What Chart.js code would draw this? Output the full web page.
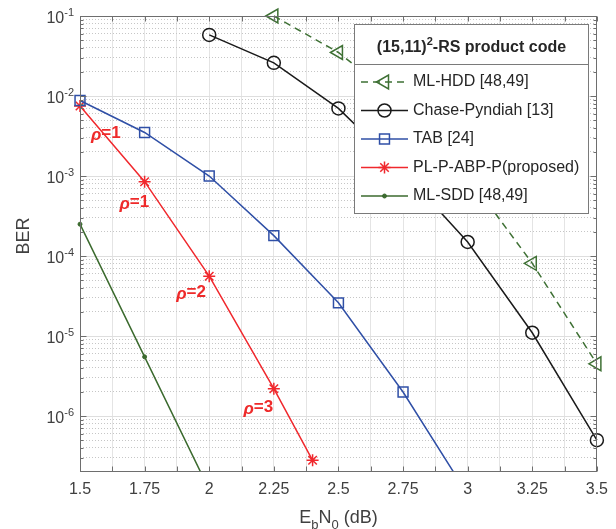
<!DOCTYPE html>
<html>
<head>
<meta charset="utf-8">
<script src="https://cdn.jsdelivr.net/npm/chart.js@4.4.1/dist/chart.umd.min.js"></script>
<style>
  body { margin: 0; background: #fff; }
  #wrap { width: 616px; height: 529px; }
</style>
</head>
<body>
<div id="wrap"><canvas id="chartBER" width="616" height="529"></canvas></div>
<script>
// data (perkiraan)
const ebn0HDD = [2.25, 2.5, 2.75, 3.0, 3.25, 3.5];
const berHDD = [1.0e-1, 3.5e-2, 8.0e-3, 1.0e-3, 8.1e-5, 4.5e-6];

const ebn0Chase = [2.0, 2.25, 2.5, 2.75, 3.0, 3.25, 3.5];
const berChase = [5.8e-2, 2.6e-2, 7.0e-3, 1.15e-3, 1.5e-4, 1.1e-5, 5.0e-7];

const ebn0TAB = [1.5, 1.75, 2.0, 2.25, 2.5, 2.75, 3.0];
const berTAB = [8.8e-3, 3.5e-3, 1.0e-3, 1.8e-4, 2.6e-5, 2.0e-6, 1.05e-7];

const ebn0PL = [1.5, 1.75, 2.0, 2.25, 2.4];
const berPL = [7.5e-3, 8.5e-4, 5.6e-5, 2.2e-6, 2.8e-7];

const ebn0SDD = [1.5, 1.75, 2.0];
const berSDD = [2.5e-4, 5.5e-6, 1.2e-7];

const seriesNames = ['ML-HDD [48,49]', 'Chase-Pyndiah [13]', 'TAB [24]', 'PL-P-ABP-P(proposed)', 'ML-SDD [48,49]'];

// label rho di dekat kurva merah
const rhoText = ['1', '1', '2', '3'];
const rhoX = [1.6, 1.71, 1.93, 2.19];
const rhoY = [3.4e-3, 4.7e-4, 3.5e-5, 1.3e-6];

const xTickStep = 0.125;
const yDecades = [-6, -5, -4, -3, -2, -1];

const FONT = "'Liberation Sans', Arial, sans-serif";
Chart.defaults.font.family = FONT;

const isDecade = v => Math.abs(Math.log10(v) - Math.round(Math.log10(v))) < 1e-9;

function toPoints(xs, ys) {
  return xs.map((x, i) => ({ x: x, y: ys[i] }));
}

const clipBottom = { left: 12, top: 12, right: 12, bottom: 0 };

const datasets = [
  {
    label: seriesNames[0], data: toPoints(ebn0HDD, berHDD),
    borderColor: '#3e7034', borderWidth: 1.5, borderDash: [7, 5],
    pointStyle: 'triangle', pointRotation: -90, pointRadius: 8,
    pointBorderColor: '#3e7034', pointBackgroundColor: 'rgba(0,0,0,0)', pointBorderWidth: 1.5,
    clip: false
  },
  {
    label: seriesNames[1], data: toPoints(ebn0Chase, berChase),
    borderColor: '#1a1a1a', borderWidth: 1.5,
    pointStyle: 'circle', pointRadius: 6.5,
    pointBorderColor: '#1a1a1a', pointBackgroundColor: 'rgba(0,0,0,0)', pointBorderWidth: 1.5,
    clip: false
  },
  {
    label: seriesNames[2], data: toPoints(ebn0TAB, berTAB),
    borderColor: '#2f4fa6', borderWidth: 1.5,
    pointStyle: 'rect', pointRadius: 7,
    pointBorderColor: '#2f4fa6', pointBackgroundColor: 'rgba(0,0,0,0)', pointBorderWidth: 1.5,
    clip: clipBottom
  },
  {
    label: seriesNames[3], data: toPoints(ebn0PL, berPL),
    borderColor: '#f0282d', borderWidth: 1.5,
    pointStyle: 'star', pointRadius: 6,
    pointBorderColor: '#f0282d', pointBackgroundColor: 'rgba(0,0,0,0)', pointBorderWidth: 1.5,
    clip: false
  },
  {
    label: seriesNames[4], data: toPoints(ebn0SDD, berSDD),
    borderColor: '#3b6a2e', borderWidth: 1.5,
    pointStyle: 'circle', pointRadius: 2,
    pointBorderColor: '#3b6a2e', pointBackgroundColor: '#3b6a2e', pointBorderWidth: 1,
    clip: clipBottom
  }
];

// gambar bagian ala MATLAB: kotak, tick ke dalam, label, legend
const matlabLook = {
  id: 'matlabLook',
  afterDatasetsDraw(chart) {
    const ctx = chart.ctx;
    const a = chart.chartArea;
    const xs = chart.scales.x, ys = chart.scales.y;
    ctx.save();

    // anotasi rho
    ctx.fillStyle = '#ee2a2a';
    ctx.textBaseline = 'middle';
    rhoText.forEach((t, i) => {
      const px = xs.getPixelForValue(rhoX[i]);
      const py = ys.getPixelForValue(rhoY[i]);
      ctx.font = 'italic bold 17px ' + FONT;
      const w1 = ctx.measureText('\u03C1').width;
      ctx.font = 'bold 17px ' + FONT;
      const w2 = ctx.measureText('=' + t).width;
      const x0 = px - (w1 + w2) / 2;
      ctx.font = 'italic bold 17px ' + FONT;
      ctx.textAlign = 'left';
      ctx.fillText('\u03C1', x0, py + 2);
      ctx.font = 'bold 17px ' + FONT;
      ctx.fillText('=' + t, x0 + w1, py);
    });

    // kotak sumbu
    ctx.strokeStyle = '#6e6e6e';
    ctx.lineWidth = 1;
    const L = Math.round(a.left) + 0.5, R = Math.round(a.right) - 0.5;
    const T = Math.round(a.top) + 0.5, B = Math.round(a.bottom) - 0.5;
    ctx.strokeRect(L, T, R - L, B - T);

    ctx.beginPath();
    for (let v = 1.5; v <= 3.5 + 1e-9; v += xTickStep) {
      const px = Math.round(xs.getPixelForValue(v)) + 0.5;
      ctx.moveTo(px, B); ctx.lineTo(px, B - 5);
      ctx.moveTo(px, T); ctx.lineTo(px, T + 5);
    }
    ys.ticks.forEach(tk => {
      const py = Math.round(ys.getPixelForValue(tk.value)) + 0.5;
      const len = isDecade(tk.value) ? 6 : 3;
      ctx.moveTo(L, py); ctx.lineTo(L + len, py);
      ctx.moveTo(R, py); ctx.lineTo(R - len, py);
    });
    ctx.stroke();
    ctx.restore();
  },
  afterDraw(chart) {
    const ctx = chart.ctx;
    const a = chart.chartArea;
    const ys = chart.scales.y;
    ctx.save();
    ctx.fillStyle = '#404040';
    ctx.textBaseline = 'middle';

    // label sumbu y: 10^-n
    yDecades.forEach(e => {
      const py = ys.getPixelForValue(Math.pow(10, e));
      ctx.font = '16px ' + FONT;
      const wBase = ctx.measureText('10').width;
      ctx.font = '11px ' + FONT;
      const sup = '-' + (-e);
      const wSup = ctx.measureText(sup).width;
      const right = a.left - 6;
      ctx.textAlign = 'left';
      ctx.font = '16px ' + FONT;
      ctx.fillText('10', right - wSup - wBase, py + 3);
      ctx.font = '11px ' + FONT;
      ctx.fillText(sup, right - wSup, py - 3);
    });

    // judul sumbu y
    ctx.save();
    ctx.translate(24, (a.top + a.bottom) / 2 - 8);
    ctx.rotate(-Math.PI / 2);
    ctx.textAlign = 'center';
    ctx.font = '18px ' + FONT;
    ctx.fillText('BER', 0, 0);
    ctx.restore();

    // judul sumbu x: E_bN_0 (dB)
    const parts = [
      { t: 'E', f: '18px ', dy: 0 },
      { t: 'b', f: '13px ', dy: 6 },
      { t: 'N', f: '18px ', dy: 0 },
      { t: '0', f: '13px ', dy: 6 },
      { t: ' (dB)', f: '18px ', dy: 0 }
    ];
    let total = 0;
    parts.forEach(p => { ctx.font = p.f + FONT; p.w = ctx.measureText(p.t).width; total += p.w; });
    let cx = (a.left + a.right) / 2 - total / 2;
    ctx.textAlign = 'left';
    ctx.textBaseline = 'alphabetic';
    parts.forEach(p => {
      ctx.font = p.f + FONT;
      ctx.fillText(p.t, cx, 523 + p.dy);
      cx += p.w;
    });

    // legend
    const lx = 354.5, ly = 24.5, lw = 234, lh = 189;
    ctx.fillStyle = '#ffffff';
    ctx.fillRect(lx, ly, lw, lh);
    ctx.strokeStyle = '#7a7a7a';
    ctx.lineWidth = 1;
    ctx.strokeRect(lx, ly, lw, lh);
    ctx.beginPath();
    ctx.moveTo(lx, 64.5); ctx.lineTo(lx + lw, 64.5);
    ctx.stroke();

    ctx.fillStyle = '#262626';
    ctx.textBaseline = 'middle';
    const t1 = '(15,11)', t2 = '2', t3 = '-RS product code';
    ctx.font = 'bold 16px ' + FONT;
    const w1 = ctx.measureText(t1).width, w3 = ctx.measureText(t3).width;
    ctx.font = 'bold 11px ' + FONT;
    const w2 = ctx.measureText(t2).width;
    let tx = lx + lw / 2 - (w1 + w2 + w3) / 2;
    ctx.font = 'bold 16px ' + FONT;
    ctx.fillText(t1, tx, 48);
    ctx.font = 'bold 11px ' + FONT;
    ctx.fillText(t2, tx + w1, 42);
    ctx.font = 'bold 16px ' + FONT;
    ctx.fillText(t3, tx + w1 + w2, 48);

    chart.data.datasets.forEach((ds, i) => {
      const yy = 82 + i * 28.5;
      ctx.save();
      ctx.strokeStyle = ds.borderColor;
      ctx.lineWidth = ds.borderWidth;
      ctx.setLineDash(ds.borderDash || []);
      ctx.beginPath();
      ctx.moveTo(361, yy); ctx.lineTo(408, yy);
      ctx.stroke();
      ctx.setLineDash([]);
      ctx.fillStyle = ds.pointBackgroundColor;
      ctx.strokeStyle = ds.pointBorderColor;
      ctx.lineWidth = ds.pointBorderWidth;
      Chart.helpers.drawPoint(ctx, {
        pointStyle: ds.pointStyle,
        radius: ds.pointRadius,
        rotation: ds.pointRotation || 0,
        borderWidth: ds.pointBorderWidth
      }, 384.5, yy);
      ctx.restore();
      ctx.fillStyle = '#262626';
      ctx.font = '16px ' + FONT;
      ctx.textAlign = 'left';
      ctx.fillText(ds.label, 413, yy);
    });
    ctx.restore();
  }
};

const chartConfig = {
  type: 'line',
  data: { datasets: datasets },
  options: {
    responsive: false,
    animation: false,
    layout: { padding: { left: 0, right: 19, top: 16, bottom: 0 } },
    elements: { line: { tension: 0 } },
    plugins: {
      legend: { display: false },
      tooltip: { enabled: false }
    },
    scales: {
      x: {
        type: 'linear',
        min: 1.5,
        max: 3.5,
        grid: { color: '#e4e4e4', drawTicks: false },
        border: { display: false },
        ticks: {
          stepSize: xTickStep,
          autoSkip: false,
          maxRotation: 0,
          padding: 8,
          color: '#404040',
          font: { size: 16 },
          callback: v => (Math.abs(v * 4 - Math.round(v * 4)) < 1e-6 ? String(v) : '')
        },
        afterFit: s => { s.height = 57; }
      },
      y: {
        type: 'logarithmic',
        min: 2e-7,
        max: 1e-1,
        afterBuildTicks: s => {
          const vals = [];
          for (let e = -7; e <= -1; e++) {
            for (let m = 1; m <= 9; m++) {
              const v = m * Math.pow(10, e);
              if (v > 2.01e-7 && v <= 0.1000001) vals.push(v);
            }
          }
          s.ticks = vals.map(v => ({ value: v }));
        },
        grid: {
          drawTicks: false,
          color: c => (c.tick && !isDecade(c.tick.value) ? '#c6c6c6' : '#dedede')
        },
        border: {
          display: false,
          dash: c => (c.tick && !isDecade(c.tick.value) ? [1, 2] : [])
        },
        ticks: { display: false },
        afterFit: s => { s.width = 80; }
      }
    }
  },
  plugins: [matlabLook]
};

var ctx = document.getElementById('chartBER');
var grafikBER = new Chart(ctx, chartConfig);
</script>
</body>
</html>
